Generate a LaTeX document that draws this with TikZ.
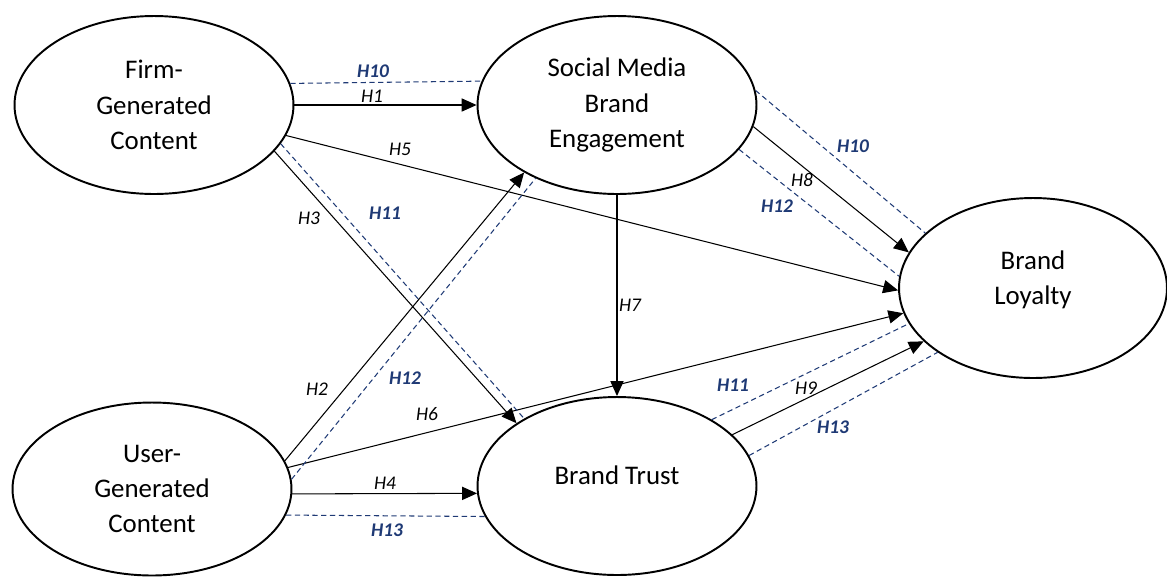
\documentclass[tikz,border=0pt]{standalone}
\usepackage{fontspec}
\setmainfont{Carlito}
\usepackage{tikz}
\usetikzlibrary{shapes.geometric, arrows.meta}
\definecolor{medblue}{HTML}{1F3A75}

\begin{document}
\begin{tikzpicture}[
    x=0.02cm, y=-0.02cm,
    construct/.style={ellipse, draw, line width=1.1pt, inner sep=0pt, minimum width=5.58cm, minimum height=3.56cm, align=center, font=\fontsize{15.3}{20.1}\selectfont},
    direct/.style={line width=0.6pt, -{Triangle[length=8.5pt, width=7.5pt]}},
    mediated/.style={draw=medblue, line width=0.6pt, dash pattern=on 3pt off 2pt},
    hlabel/.style={inner sep=1pt, font=\fontsize{11}{13}\selectfont\itshape},
    mlabel/.style={inner sep=1pt, text=medblue, font=\fontsize{11}{13}\selectfont\bfseries\itshape},
]
    \useasboundingbox (0,0) rectangle (1167,576);

    % Constructs
    \node[construct] (firm) at (154,105) {Firm-\\Generated\\Content};
    \node[construct] (smbe) at (617,105) {Social Media\\Brand\\Engagement};
    \node[construct, minimum width=5.36cm, minimum height=3.6cm, text depth=12pt] (loyalty) at (1033,288) {Brand\\Loyalty};
    \node[construct, minimum height=3.46cm] (ugc) at (152,489) {User-\\Generated\\Content};
    \node[construct, text depth=12pt] (trust) at (617,486) {Brand Trust};

    % Direct paths
    \draw[direct] (firm.east) -- (smbe.west);
    \draw[direct] (ugc.12.6) -- (smbe.216.4);
    \draw[direct] (firm.-21.5) -- (trust.148.3);
    \draw[direct] (ugc.-2.5) -- (trust.183.7);
    \draw[direct] (firm.-13) -- (loyalty.181);
    \draw[direct] (ugc.9.6) -- (loyalty.191.6);
    \draw[direct] (smbe.south) -- (trust.north);
    \draw[direct] (smbe.-9.1) -- (loyalty.164.5);
    \draw[direct] (trust.24.2) -- (loyalty.206.4);

    % Mediated paths
    \draw[mediated] (firm.9.6) -- (smbe.170.3);
    \draw[mediated] (smbe.6.5) -- (loyalty.153.2);
    \draw[mediated] (firm.-17.6) -- (trust.144.7);
    \draw[mediated] (trust.35.1) -- (loyalty.196.5);
    \draw[mediated] (ugc.4.1) -- (smbe.222.9);
    \draw[mediated] (smbe.-20.5) -- (loyalty.175.4);
    \draw[mediated] (ugc.-11.1) -- (trust.193);
    \draw[mediated] (trust.13.9) -- (loyalty.214.6);

    % Hypothesis labels
    \node[hlabel] (h1) at (372,96) {H1};
    \node[hlabel] (h2) at (317,389) {H2};
    \node[hlabel] (h3) at (309,218) {H3};
    \node[hlabel] (h4) at (385,483) {H4};
    \node[hlabel] (h5) at (400,149) {H5};
    \node[hlabel] (h6) at (427,414) {H6};
    \node[hlabel] (h7) at (630,305) {H7};
    \node[hlabel] (h8) at (802,180) {H8};
    \node[hlabel] (h9) at (806,388) {H9};
    \node[mlabel] (h10a) at (373,71) {H10};
    \node[mlabel] (h10b) at (853,146) {H10};
    \node[mlabel] (h11a) at (385,213) {H11};
    \node[mlabel] (h11b) at (733,385) {H11};
    \node[mlabel] (h12a) at (405,378) {H12};
    \node[mlabel] (h12b) at (777,206) {H12};
    \node[mlabel] (h13a) at (387,530) {H13};
    \node[mlabel] (h13b) at (833,427) {H13};

\end{tikzpicture}
\end{document}
